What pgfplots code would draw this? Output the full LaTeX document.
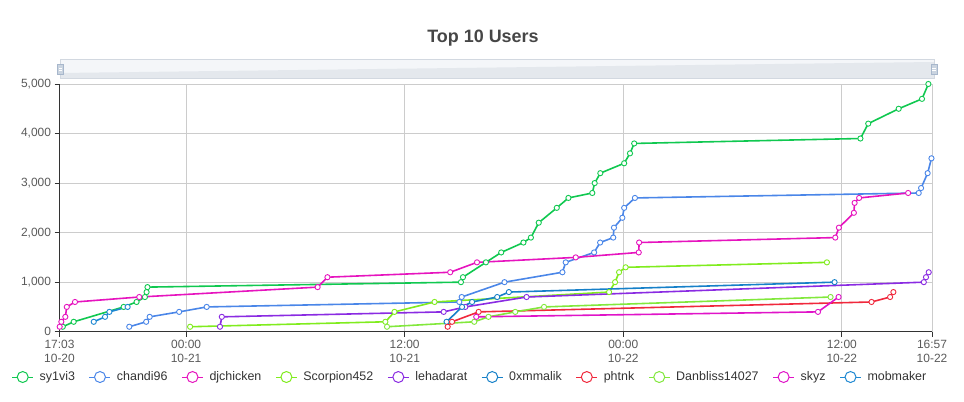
\documentclass[border=0pt]{standalone}
\usepackage{fontspec}
\setmainfont{Liberation Sans}
\usepackage{pgfplots}
\pgfplotsset{compat=1.18}
\definecolor{cA}{RGB}{16,200,80}
\definecolor{cB}{RGB}{74,134,232}
\definecolor{cC}{RGB}{230,20,190}
\definecolor{cD}{RGB}{128,236,30}
\definecolor{cE}{RGB}{138,43,226}
\definecolor{cF}{RGB}{22,128,200}
\definecolor{cG}{RGB}{240,40,60}
\definecolor{cH}{RGB}{130,232,60}
\definecolor{cI}{RGB}{224,20,200}
\definecolor{cJ}{RGB}{30,136,210}
\definecolor{gridgray}{RGB}{204,204,204}
\definecolor{axisgray}{RGB}{51,51,51}
\definecolor{labelgray}{RGB}{90,90,90}
\definecolor{titlegray}{RGB}{70,70,70}
\definecolor{slidebg}{RGB}{244,246,249}
\definecolor{slideshadow}{RGB}{228,232,237}
\definecolor{slideborder}{RGB}{210,216,224}
\definecolor{handle}{RGB}{167,183,204}
\begin{document}
\begin{tikzpicture}
\useasboundingbox (0bp,0bp) rectangle (964bp,402bp);
% data zoom slider (decoration)
\fill[slidebg] (60bp,324bp) rectangle (934bp,342.5bp);
\fill[slideshadow] (60bp,324bp) -- (60bp,329bp) -- (934bp,340bp) -- (934bp,324bp) -- cycle;
\draw[slideborder, line width=0.8pt] (60bp,324bp) rectangle (934bp,342.5bp);
\filldraw[fill=handle!60, draw=handle, line width=0.6pt] (57.5bp,328bp) rectangle (63.5bp,338bp);
\filldraw[fill=handle!60, draw=handle, line width=0.6pt] (931bp,328bp) rectangle (937bp,338bp);
\draw[white, line width=0.5pt] (58.8bp,332bp) -- (62.2bp,332bp) (58.8bp,334bp) -- (62.2bp,334bp);
\draw[white, line width=0.5pt] (932.3bp,332bp) -- (935.7bp,332bp) (932.3bp,334bp) -- (935.7bp,334bp);
\node[font=\bfseries\fontsize{18}{21}\selectfont, text=titlegray] at (483bp,364bp) {Top 10 Users};
\begin{axis}[
  at={(59.5bp,70.3bp)}, anchor=south west,
  width=872.5bp, height=247.7bp, scale only axis,
  xmin=-6.95, xmax=40.95, ymin=0, ymax=5000,
  xtick={-6.95,0,12,24,36,40.95},
  xticklabels={{17:03\\10-20},{00:00\\10-21},{12:00\\10-21},{00:00\\10-22},{12:00\\10-22},{16:57\\10-22}},
  xticklabel style={align=center, font=\fontsize{12}{14}\selectfont, text=labelgray},
  ytick={0,1000,2000,3000,4000,5000},
  yticklabel style={font=\fontsize{12}{14}\selectfont, text=labelgray},
  /pgf/number format/1000 sep={,},
  /pgf/number format/assume math mode=true,
  scaled y ticks=false,
  grid=major, major grid style={gridgray, line width=0.8pt},
  axis x line*=bottom, axis y line*=left,
  axis line style={axisgray, line width=0.8pt, -},
  tick align=outside, major tick length=5bp,
  tick style={axisgray, line width=0.8pt},
  clip=false,
  every axis plot/.append style={line width=1.6pt, mark=*, mark size=2.6bp, mark options={fill=white, line width=0.9pt, solid}},
  legend columns=10,
  legend style={at={(0.4705,-0.183)}, anchor=center, draw=none, fill=none,
    font=\fontsize{12.5}{15}\selectfont, text=axisgray,
    /tikz/every odd column/.append style={column sep=4bp},
    /tikz/every even column/.append style={column sep=12bp}},
  legend image code/.code={\draw[#1, mark=none, line width=1pt] (0bp,0bp) -- (21bp,0bp); \draw[#1, mark=none, line width=1pt, fill=white] (10.5bp,0bp) circle (5.5bp);},
]
\addplot[color=cA] coordinates {(-6.77,100) (-6.17,200) (-3.43,500) (-2.72,600) (-2.26,700) (-2.17,800) (-2.12,900) (15.09,1000) (15.2,1100) (16.46,1400) (17.3,1600) (18.52,1800) (18.93,1900) (19.36,2200) (20.35,2500) (20.99,2700) (22.3,2800) (22.43,3000) (22.74,3200) (24.05,3400) (24.37,3600) (24.6,3800) (37.02,3900) (37.45,4200) (39.12,4500) (40.4,4700) (40.75,5000)};
\addlegendentry{sy1vi3}
\addplot[color=cB] coordinates {(-3.12,100) (-2.19,200) (-2.0,300) (-0.38,400) (1.13,500) (15.0,600) (15.13,700) (17.48,1000) (20.66,1200) (20.84,1400) (22.4,1600) (22.73,1800) (23.45,1900) (23.49,2100) (23.95,2300) (24.05,2500) (24.64,2700) (40.22,2800) (40.35,2900) (40.71,3200) (40.92,3500)};
\addlegendentry{chandi96}
\addplot[color=cC] coordinates {(-6.94,100) (-6.85,200) (-6.63,300) (-6.55,500) (-6.1,600) (-2.57,700) (7.22,900) (7.76,1100) (14.5,1200) (15.97,1400) (21.39,1500) (24.85,1600) (24.87,1800) (35.64,1900) (35.84,2100) (36.66,2400) (36.7,2600) (36.95,2700) (39.64,2800)};
\addlegendentry{djchicken}
\addplot[color=cD] coordinates {(0.22,100) (10.94,200) (11.44,400) (13.64,600) (23.22,800) (23.55,1000) (23.77,1200) (24.13,1300) (35.18,1400)};
\addlegendentry{Scorpion452}
\addplot[color=cE] coordinates {(1.86,100) (1.96,300) (14.14,400) (15.33,500) (18.69,700) (40.5,1000) (40.62,1100) (40.77,1200)};
\addlegendentry{lehadarat}
\addplot[color=cF] coordinates {(14.3,200) (15.15,500) (15.7,600) (17.08,700) (17.72,800) (35.6,1000)};
\addlegendentry{0xmmalik}
\addplot[color=cG] coordinates {(14.36,100) (14.6,200) (16.06,400) (37.63,600) (38.65,700) (38.83,800)};
\addlegendentry{phtnk}
\addplot[color=cH] coordinates {(11.03,100) (15.82,200) (16.6,300) (18.07,400) (19.65,500) (35.38,700)};
\addlegendentry{Danbliss14027}
\addplot[color=cI] coordinates {(15.93,300) (34.69,400) (35.82,700)};
\addlegendentry{skyz}
\addplot[color=cJ] coordinates {(-5.07,200) (-4.45,300) (-4.21,400) (-3.21,500)};
\addlegendentry{mobmaker}
\end{axis}
\end{tikzpicture}
\end{document}
